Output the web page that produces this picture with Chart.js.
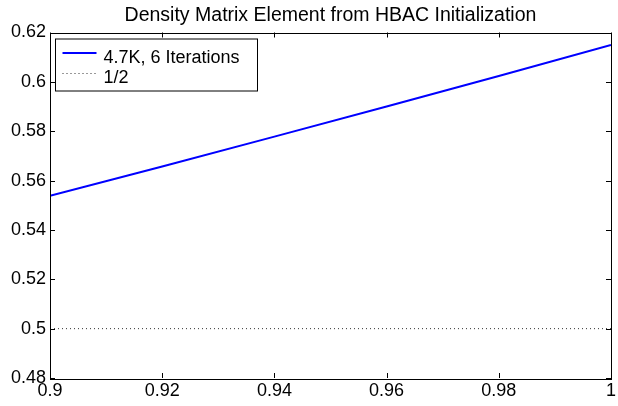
<!DOCTYPE html>
<html>
<head>
<meta charset="utf-8">
<script src="https://cdn.jsdelivr.net/npm/chart.js@4.4.1/dist/chart.umd.min.js"></script>
<style>
  html, body { margin: 0; padding: 0; background: #fff; }
  #wrap { width: 618px; height: 406px; }
</style>
</head>
<body>
<div id="wrap"><canvas id="myChart"></canvas></div>
<script>
const xValues = [0.9, 0.92, 0.94, 0.96, 0.98, 1.0];
const fitValues = [0.5538, 0.5657, 0.5778, 0.5900, 0.6024, 0.6149];
const halfX = [0.9, 1.0];
const halfValues = [0.5, 0.5];
const xTicks = [0.9, 0.92, 0.94, 0.96, 0.98, 1];
const yTicks = [0.48, 0.5, 0.52, 0.54, 0.56, 0.58, 0.6, 0.62];
const titleText = "Density Matrix Element from HBAC Initialization";

const fontName = "'Liberation Sans', Arial, Helvetica, sans-serif";

function fmt(v) {
  return String(+v.toFixed(2));
}

// box round the axes and the ticks that point inward, matlab style
const boxPlugin = {
  id: "boxPlugin",
  afterDraw(chart) {
    const c = chart.ctx;
    const a = chart.chartArea;
    const xs = chart.scales.x;
    const ys = chart.scales.y;
    const len = 5;
    c.save();
    c.strokeStyle = "#000";
    c.lineWidth = 1;
    c.beginPath();
    for (const v of xTicks) {
      const px = Math.round(xs.getPixelForValue(v)) + 0.5;
      c.moveTo(px, a.bottom); c.lineTo(px, a.bottom - len);
      c.moveTo(px, a.top); c.lineTo(px, a.top + len);
    }
    for (const v of yTicks) {
      const py = Math.round(ys.getPixelForValue(v)) + 0.5;
      c.moveTo(a.left, py); c.lineTo(a.left + len, py);
      c.moveTo(a.right, py); c.lineTo(a.right - len, py);
    }
    c.stroke();
    c.strokeRect(Math.round(a.left) + 0.5, Math.round(a.top) + 0.5,
      Math.round(a.right - a.left), Math.round(a.bottom - a.top));

    // title centred over the axes, not the canvas
    c.fillStyle = "#000";
    c.font = "19.5px " + fontName;
    c.textAlign = "center";
    c.textBaseline = "alphabetic";
    c.fillText(titleText, (a.left + a.right) / 2, 21);
    c.restore();
  }
};

// legend box in the top left corner of the axes
const legendPlugin = {
  id: "legendPlugin",
  afterDraw(chart) {
    const c = chart.ctx;
    const a = chart.chartArea;
    const x0 = a.left + 5.5;
    const y0 = a.top + 6.5;
    const w = 202;
    const h = 52;
    c.save();
    c.fillStyle = "#fff";
    c.fillRect(x0, y0, w, h);
    c.strokeStyle = "#000";
    c.lineWidth = 1;
    c.strokeRect(x0, y0, w, h);
    c.font = "18px " + fontName;
    c.textBaseline = "middle";
    c.fillStyle = "#000";
    chart.data.datasets.forEach(function (ds, i) {
      const ty = y0 + 19 + i * 20.5;
      const ly = ty - 5;
      c.beginPath();
      c.strokeStyle = ds.borderColor;
      c.lineWidth = ds.borderWidth;
      c.setLineDash(ds.borderDash || []);
      c.moveTo(x0 + 7, ly);
      c.lineTo(x0 + 41, ly);
      c.stroke();
      c.setLineDash([]);
      c.fillText(ds.label, x0 + 48, ty);
    });
    c.restore();
  }
};

const ctx = document.getElementById("myChart");

new Chart(ctx, {
  type: "line",
  data: {
    datasets: [
      {
        label: "4.7K, 6 Iterations",
        data: xValues.map((x, i) => ({ x: x, y: fitValues[i] })),
        borderColor: "#0000ff",
        borderWidth: 2,
        pointRadius: 0,
        tension: 0,
        fill: false
      },
      {
        label: "1/2",
        data: halfX.map((x, i) => ({ x: x, y: halfValues[i] })),
        borderColor: "#333",
        borderWidth: 1,
        borderDash: [1, 3],
        pointRadius: 0,
        fill: false
      }
    ]
  },
  plugins: [boxPlugin, legendPlugin],
  options: {
    responsive: true,
    maintainAspectRatio: false,
    animation: false,
    layout: { padding: { left: 0, right: 4, top: 32.5, bottom: 0 } },
    plugins: {
      legend: { display: false },
      tooltip: { enabled: false },
      title: { display: false }
    },
    scales: {
      x: {
        type: "linear",
        min: 0.9,
        max: 1,
        afterBuildTicks(scale) {
          scale.ticks = xTicks.map(v => ({ value: v }));
        },
        afterFit(scale) { scale.height = 28; },
        grid: { display: false, drawTicks: false },
        border: { display: false },
        ticks: {
          color: "#000",
          font: { family: fontName, size: 18 },
          padding: 2,
          maxRotation: 0,
          autoSkip: false,
          callback: v => fmt(v)
        }
      },
      y: {
        type: "linear",
        min: 0.48,
        max: 0.62,
        afterBuildTicks(scale) {
          scale.ticks = yTicks.map(v => ({ value: v }));
        },
        afterFit(scale) { scale.width = 50; },
        grid: { display: false, drawTicks: false },
        border: { display: false },
        ticks: {
          color: "#000",
          font: { family: fontName, size: 18 },
          padding: 4,
          autoSkip: false,
          callback: v => fmt(v)
        }
      }
    }
  }
});
</script>
</body>
</html>
